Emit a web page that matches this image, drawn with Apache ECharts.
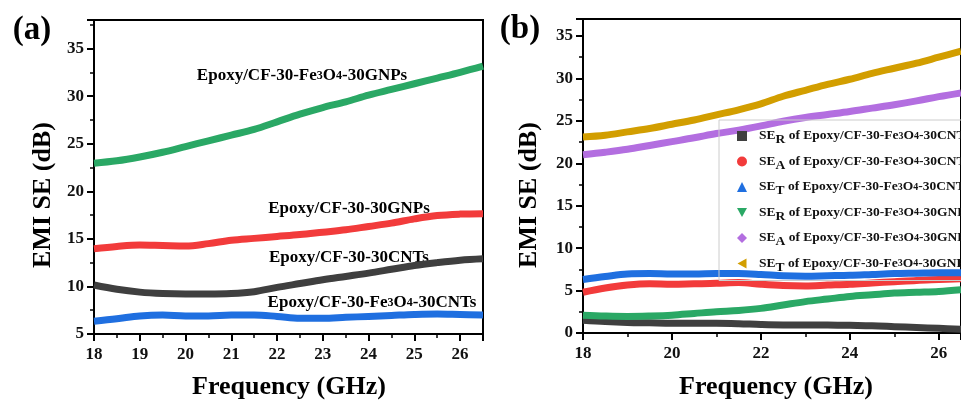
<!DOCTYPE html>
<html>
<head>
<meta charset="utf-8">
<script src="https://cdn.jsdelivr.net/npm/echarts@6/dist/echarts.min.js"></script>
<style>html,body{margin:0;padding:0;background:#fff;}#c{width:961px;height:401px;}</style>
</head>
<body>
<div id="c"></div>
<script>
// Frequency samples (GHz)
var freq = [18, 18.5, 19, 19.5, 20, 20.5, 21, 21.5, 22, 22.5, 23, 23.5, 24, 24.5, 25, 25.5, 26, 26.5];

// Panel (a): total EMI SE (dB)
var a_fe_gnp = [22.95, 23.2, 23.6, 24.1, 24.7, 25.3, 25.9, 26.5, 27.3, 28.1, 28.8, 29.4, 30.1, 30.7, 31.3, 31.9, 32.5, 33.15];
var a_gnp    = [13.95, 14.2, 14.35, 14.3, 14.25, 14.5, 14.85, 15.05, 15.25, 15.45, 15.7, 15.95, 16.3, 16.65, 17.1, 17.45, 17.6, 17.65];
var a_cnt    = [10.15, 9.7, 9.4, 9.25, 9.2, 9.2, 9.25, 9.45, 9.9, 10.3, 10.7, 11.05, 11.4, 11.8, 12.2, 12.5, 12.75, 12.9];
var a_fe_cnt = [6.35, 6.6, 6.9, 7.0, 6.9, 6.9, 7.0, 7.0, 6.85, 6.65, 6.65, 6.75, 6.85, 6.95, 7.05, 7.1, 7.05, 7.0];

// Panel (b): SE components (dB)
var b_ser_cnt = [1.5, 1.35, 1.25, 1.2, 1.15, 1.15, 1.15, 1.1, 1.0, 0.95, 0.95, 0.95, 0.9, 0.85, 0.75, 0.65, 0.55, 0.45];
var b_sea_cnt = [4.8, 5.3, 5.65, 5.8, 5.75, 5.8, 5.85, 5.95, 5.75, 5.6, 5.55, 5.65, 5.75, 5.9, 6.05, 6.2, 6.3, 6.4];
var b_set_cnt = [6.3, 6.65, 6.95, 7.0, 6.95, 6.95, 7.0, 7.0, 6.9, 6.75, 6.7, 6.75, 6.8, 6.9, 7.0, 7.05, 7.1, 7.1];
var b_ser_gnp = [2.1, 2.0, 1.95, 2.0, 2.1, 2.3, 2.5, 2.65, 2.9, 3.3, 3.7, 4.0, 4.3, 4.5, 4.7, 4.8, 4.9, 5.1];
var b_sea_gnp = [21.0, 21.3, 21.65, 22.1, 22.55, 23.0, 23.5, 23.9, 24.4, 24.95, 25.4, 25.75, 26.1, 26.5, 26.9, 27.35, 27.85, 28.3];
var b_set_gnp = [23.1, 23.3, 23.7, 24.1, 24.6, 25.1, 25.7, 26.3, 27.0, 27.9, 28.6, 29.3, 29.9, 30.6, 31.2, 31.8, 32.5, 33.2];

var aLabels = ['Epoxy/CF-30-Fe3O4-30GNPs', 'Epoxy/CF-30-30GNPs', 'Epoxy/CF-30-30CNTs', 'Epoxy/CF-30-Fe3O4-30CNTs'];
var bNames = ['SE_R of Epoxy/CF-30-Fe3O4-30CNTs', 'SE_A of Epoxy/CF-30-Fe3O4-30CNTs', 'SE_T of Epoxy/CF-30-Fe3O4-30CNTs',
              'SE_R of Epoxy/CF-30-Fe3O4-30GNPs', 'SE_A of Epoxy/CF-30-Fe3O4-30GNPs', 'SE_T of Epoxy/CF-30-Fe3O4-30GNPs'];

var FONT = '"Liberation Serif","Times New Roman",serif';
function pairs(ys) { return freq.map(function (f, i) { return [f, ys[i]]; }); }
function richName(s) {
  var m = s.match(/^SE_([RAT]) (.*)$/);
  var out = '';
  var rest = s;
  if (m) { out += '{b|SE}{s|' + m[1] + '}'; rest = ' ' + m[2]; }
  out += rest.split('Fe3O4').map(function (p) { return p ? '{b|' + p + '}' : ''; })
    .join('{b|Fe}{n|3}{b|O}{n|4}');
  return out;
}
function richStyle(size) {
  return {
    b: { fontFamily: FONT, fontWeight: 'bold', fontSize: size, color: '#111', lineHeight: 22 },
    s: { fontFamily: FONT, fontWeight: 'bold', fontSize: size, color: '#111', lineHeight: 10, verticalAlign: 'bottom' },
    n: { fontFamily: FONT, fontWeight: 'bold', fontSize: Math.round(size * 0.72), color: '#111', verticalAlign: 'middle' }
  };
}

var colors = { black: '#3f3f3f', red: '#f23b3b', blue: '#1f6fe0', green: '#2aa865', purple: '#b36ee0', gold: '#d29e00' };

function xAxis(grid, interval) {
  return {
    type: 'value', gridIndex: grid, min: 18, max: 26.5, interval: interval,
    axisLine: { show: true, lineStyle: { color: '#000', width: 2 } },
    axisTick: { show: true, inside: false, length: 7, lineStyle: { color: '#000', width: 2 } },
    minorTick: { show: true, splitNumber: 2, length: 4, lineStyle: { color: '#000', width: 1.5 } },
    axisLabel: { showMaxLabel: false, color: '#111', fontFamily: FONT, fontWeight: 'bold', fontSize: 17, margin: 12 },
    splitLine: { show: false }
  };
}
function yAxis(grid, min, max) {
  return {
    type: 'value', gridIndex: grid, min: min, max: max, interval: 5,
    axisLine: { show: true, lineStyle: { color: '#000', width: 2 } },
    axisTick: { show: true, inside: false, length: 7, lineStyle: { color: '#000', width: 2 } },
    minorTick: { show: true, splitNumber: 2, length: 4, lineStyle: { color: '#000', width: 1.5 } },
    axisLabel: { showMaxLabel: false, color: '#111', fontFamily: FONT, fontWeight: 'bold', fontSize: 17, margin: 10 },
    splitLine: { show: false }
  };
}
function line(name, xi, data, color) {
  return {
    name: name, type: 'line', xAxisIndex: xi, yAxisIndex: xi, data: pairs(data),
    smooth: 0.35, showSymbol: false, symbol: 'none',
    lineStyle: { color: color, width: 7 }, itemStyle: { color: color }
  };
}

var chart = echarts.init(document.getElementById('c'), null, { renderer: 'canvas' });
var option = {
  animation: false,
  backgroundColor: '#fff',
  grid: [
    { left: 94, top: 20, width: 389, height: 314, show: true, borderColor: '#000', borderWidth: 2, backgroundColor: 'transparent' },
    { left: 583, top: 19, width: 382, height: 314, show: true, borderColor: '#000', borderWidth: 2, backgroundColor: 'transparent' }
  ],
  xAxis: [xAxis(0, 1), xAxis(1, 2)],
  yAxis: [yAxis(0, 5, 38), yAxis(1, 0, 37)],
  legend: {
    left: 719, top: 120, orient: 'vertical', itemGap: 7.5,
    padding: [9, 10, 6, 18],
    borderColor: '#cccccc', borderWidth: 1, backgroundColor: 'transparent',
    itemWidth: 10, itemHeight: 10,
    data: [
      { name: bNames[0], icon: 'rect' },
      { name: bNames[1], icon: 'circle' },
      { name: bNames[2], icon: 'triangle' },
      { name: bNames[3], icon: 'path://M0,0 L10,0 L5,9 Z' },
      { name: bNames[4], icon: 'diamond' },
      { name: bNames[5], icon: 'path://M0,5 L9,0 L9,10 Z' }
    ],
    formatter: function (n) { return richName(n); },
    textStyle: { fontFamily: FONT, fontWeight: 'bold', fontSize: 13.5, color: '#111', padding: [0, 0, 0, 7], rich: richStyle(13.5) }
  },
  graphic: [
    { type: 'text', x: 32, y: 30, style: { text: '(a)', font: 'bold 33px ' + FONT, fill: '#000', align: 'center', verticalAlign: 'middle' } },
    { type: 'text', x: 520, y: 29, style: { text: '(b)', font: 'bold 33px ' + FONT, fill: '#000', align: 'center', verticalAlign: 'middle' } },
    { type: 'text', x: 43, y: 195, rotation: Math.PI / 2, style: { text: 'EMI SE (dB)', font: 'bold 26px ' + FONT, fill: '#000', align: 'center', verticalAlign: 'middle' } },
    { type: 'text', x: 529, y: 195, rotation: Math.PI / 2, style: { text: 'EMI SE (dB)', font: 'bold 26px ' + FONT, fill: '#000', align: 'center', verticalAlign: 'middle' } },
    { type: 'text', x: 289, y: 387, style: { text: 'Frequency (GHz)', font: 'bold 26px ' + FONT, fill: '#000', align: 'center', verticalAlign: 'middle' } },
    { type: 'text', x: 776, y: 387, style: { text: 'Frequency (GHz)', font: 'bold 26px ' + FONT, fill: '#000', align: 'center', verticalAlign: 'middle' } },
    { type: 'text', x: 302, y: 76, style: { text: richName(aLabels[0]), rich: richStyle(17), align: 'center', verticalAlign: 'middle' } },
    { type: 'text', x: 349, y: 209, style: { text: richName(aLabels[1]), rich: richStyle(17), align: 'center', verticalAlign: 'middle' } },
    { type: 'text', x: 349, y: 258, style: { text: richName(aLabels[2]), rich: richStyle(17), align: 'center', verticalAlign: 'middle' } },
    { type: 'text', x: 372, y: 303, style: { text: richName(aLabels[3]), rich: richStyle(17), align: 'center', verticalAlign: 'middle' } }
  ],
  series: [
    line(aLabels[3], 0, a_fe_cnt, colors.blue),
    line(aLabels[2], 0, a_cnt, colors.black),
    line(aLabels[1], 0, a_gnp, colors.red),
    line(aLabels[0], 0, a_fe_gnp, colors.green),
    line(bNames[0], 1, b_ser_cnt, colors.black),
    line(bNames[1], 1, b_sea_cnt, colors.red),
    line(bNames[2], 1, b_set_cnt, colors.blue),
    line(bNames[3], 1, b_ser_gnp, colors.green),
    line(bNames[4], 1, b_sea_gnp, colors.purple),
    line(bNames[5], 1, b_set_gnp, colors.gold)
  ]
};
chart.setOption(option);
</script>
</body>
</html>
